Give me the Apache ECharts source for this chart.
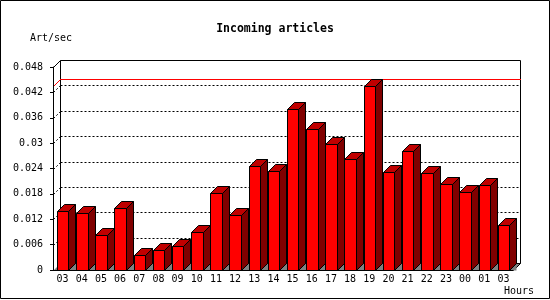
<!DOCTYPE html>
<html>
<head>
<meta charset="utf-8">
<script src="https://cdn.jsdelivr.net/npm/echarts@6/dist/echarts.min.js"></script>
<style>
html,body{margin:0;padding:0;background:#fff;}
#c{width:550px;height:300px;}
</style>
</head>
<body>
<div id="c"></div>
<script>
const hours = ['03','04','05','06','07','08','09','10','11','12','13','14','15','16','17','18','19','20','21','22','23','00','01','03'];
const artPerSec = [0.0139, 0.0134, 0.0082, 0.0146, 0.0036, 0.0047, 0.0056, 0.0089, 0.0182, 0.0129, 0.0247, 0.0235, 0.0381, 0.0333, 0.0298, 0.0262, 0.0435, 0.0231, 0.0281, 0.0229, 0.0203, 0.0184, 0.0201, 0.0106];
const yMin = 0, yMax = 0.048, yStep = 0.006;
const titleText = 'Incoming articles';
const yName = 'Art/sec';
const xName = 'Hours';

const DEPTH = 7;
const BAR_RATIO = 0.6;
const FONT = '"DejaVu Sans Mono", monospace';
const snap = v => Math.round(v) + 0.5;

const peak = Math.max.apply(null, artPerSec);
const gridValues = [];
for (let k = 1; yMin + k * yStep < yMax - 1e-9; k++) gridValues.push(yMin + k * yStep);

function renderFrame(params, api) {
  const cs = params.coordSys;
  const X0 = snap(cs.x), Y0 = snap(cs.y);
  const W = Math.round(cs.width), H = Math.round(cs.height);
  const D = DEPTH;
  const kids = [];
  kids.push({type:'polygon', shape:{points:[[X0, Y0+H],[X0+D, Y0+H-D],[X0+W+D, Y0+H-D],[X0+W, Y0+H]]},
    style:{fill:'#808080', stroke:null}});
  kids.push({type:'rect', shape:{x:X0+D, y:Y0-D, width:W, height:H}, style:{fill:null, stroke:'#000', lineWidth:1}});
  kids.push({type:'line', shape:{x1:X0, y1:Y0, x2:X0+D, y2:Y0-D}, style:{stroke:'#000', lineWidth:1}});
  kids.push({type:'line', shape:{x1:X0+W, y1:Y0+H, x2:X0+W+D, y2:Y0+H-D}, style:{stroke:'#000', lineWidth:1}});
  gridValues.forEach(v => {
    const y = snap(api.coord([0, v])[1]);
    kids.push({type:'line', shape:{x1:X0+D, y1:y-D, x2:X0+W+D, y2:y-D}, style:{stroke:'#000', lineWidth:1, lineDash:[2,2]}});
    kids.push({type:'line', shape:{x1:X0, y1:y, x2:X0+D, y2:y-D}, style:{stroke:'#000', lineWidth:1, lineDash:[2,2]}});
  });
  const py = Math.round(api.coord([0, peak])[1]);
  kids.push({type:'rect', shape:{x:X0+D-0.5, y:py-D, width:W+1, height:1}, style:{fill:'#ff0000', stroke:null}});
  kids.push({type:'line', shape:{x1:X0, y1:py+0.5, x2:X0+D, y2:py+0.5-D}, style:{stroke:'#ff0000', fill:null, lineWidth:1}});
  return {type:'group', children:kids};
}

function renderBar(params, api) {
  const i = api.value(0), v = api.value(1);
  const base = api.coord([i, 0]);
  const top = api.coord([i, v]);
  const bw = api.size([1, 0])[0] * BAR_RATIO;
  const L = snap(base[0] - bw / 2), R = snap(base[0] + bw / 2);
  const T = snap(top[1]), B = snap(base[1]);
  const D = DEPTH;
  return {type:'group', children:[
    {type:'polygon', shape:{points:[[R,B],[R+D,B-D],[R+D,B]]}, style:{fill:'#808080', stroke:null}},
    {type:'polygon', shape:{points:[[R,T],[R+D,T-D],[R+D,B-D],[R,B]]}, style:{fill:'#800000', stroke:'#000', lineWidth:1}},
    {type:'polygon', shape:{points:[[L,T],[L+D,T-D],[R+D,T-D],[R,T]]}, style:{fill:'#c00000', stroke:'#000', lineWidth:1}},
    {type:'rect', shape:{x:L, y:T, width:R-L, height:B-T}, style:{fill:'#ff0000', stroke:'#000', lineWidth:1}}
  ]};
}

const chart = echarts.init(document.getElementById('c'), null, {renderer:'canvas'});
chart.setOption({
  animation: false,
  backgroundColor: '#fff',
  title: {text: titleText, left: 'center', top: 18, textStyle:{fontFamily: FONT, fontWeight:'bold', fontSize: 11.5, color:'#000'}},
  grid: {left: 53, right: 37, top: 67, bottom: 30},
  xAxis: {
    type: 'category', data: hours, z: 5,
    axisLine: {lineStyle:{color:'#000', width:1}},
    axisTick: {length: 3, lineStyle:{color:'#000'}},
    axisLabel: {margin: 4, color:'#000', fontFamily: FONT, fontSize: 10, interval: 0},
    splitLine: {show:false}
  },
  yAxis: {
    type: 'value', min: yMin, max: yMax, interval: yStep, z: 5,
    axisLine: {show:true, lineStyle:{color:'#000', width:1}},
    axisTick: {show:true, length: 3, lineStyle:{color:'#000'}},
    axisLabel: {margin: 10, color:'#000', fontFamily: FONT, fontSize: 10,
      formatter: v => String(parseFloat(v.toFixed(3)))},
    splitLine: {show:false}
  },
  graphic: [
    {type:'rect', shape:{x:0.5, y:0.5, width:549, height:298}, style:{fill:null, stroke:'#000', lineWidth:1}, z:100},
    {type:'text', left: 30, top: 33, style:{text: yName, fontFamily: FONT, fontSize: 10, fill:'#000'}},
    {type:'text', left: 504, top: 286, style:{text: xName, fontFamily: FONT, fontSize: 10, fill:'#000'}}
  ],
  series: [
    {type:'custom', name:'frame', z:1, silent:true, itemStyle:{color:'#ff0000'}, renderItem: renderFrame, data:[[0, 0]], encode:{x:0, y:1}},
    {type:'custom', name:'Incoming', z:2, itemStyle:{color:'#ff0000'}, renderItem: renderBar,
      data: artPerSec.map((v, i) => [i, v]), encode:{x:0, y:1}}
  ]
});
</script>
</body>
</html>
